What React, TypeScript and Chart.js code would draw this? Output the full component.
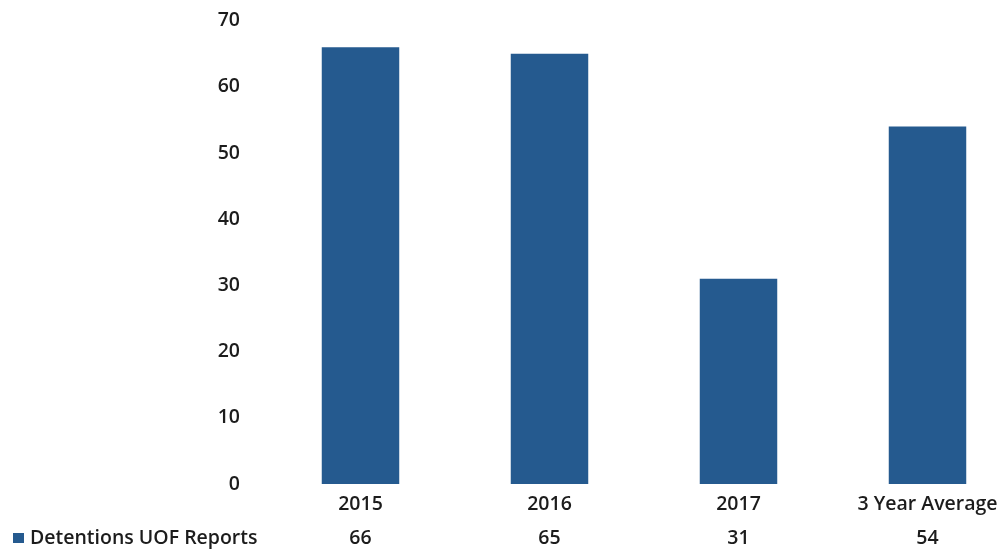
import React, { useEffect, useRef } from "react";
import { Chart, registerables } from "chart.js";

Chart.register(...registerables);

const categories = ["2015", "2016", "2017", "3 Year Average"];
const seriesName = "Detentions UOF Reports";
const values = [66, 65, 31, 54];
const yTicks = [0, 10, 20, 30, 40, 50, 60, 70];

const BAR_COLOR = "#255a8f";
const TEXT_COLOR = "#1c1c1c";
const FONT_FAMILY = "'Open Sans', sans-serif";
const FONT_SIZE = 19.5;
const SHIFT = 17;

export default function App() {
  const ref = useRef<HTMLCanvasElement | null>(null);

  useEffect(() => {
    document.body.style.margin = "0";
    const canvas = ref.current;
    if (!canvas) return;

    const tablePlugin = {
      id: "dataTableRow",
      afterDraw(chart: any) {
        const ctx = chart.ctx;
        const xScale = chart.scales.x;
        const rowY = chart.chartArea.bottom + 54;
        ctx.save();
        ctx.fillStyle = BAR_COLOR;
        ctx.fillRect(13, rowY - 5, 11, 10);
        ctx.fillStyle = TEXT_COLOR;
        ctx.font = `600 ${FONT_SIZE}px ${FONT_FAMILY}`;
        ctx.textBaseline = "middle";
        ctx.textAlign = "left";
        ctx.fillText(seriesName, 30, rowY);
        ctx.textAlign = "center";
        values.forEach((v, i) => {
          ctx.fillText(String(v), xScale.getPixelForValue(i), rowY);
        });
        ctx.restore();
      },
    };

    const chart = new Chart(canvas, {
      type: "bar",
      data: {
        labels: categories,
        datasets: [
          {
            label: seriesName,
            data: values,
            backgroundColor: BAR_COLOR,
            categoryPercentage: 1,
            barPercentage: 0.41,
          },
        ],
      },
      options: {
        animation: false,
        responsive: false,
        maintainAspectRatio: false,
        layout: { padding: { top: 1, left: 0, right: 0, bottom: 0 } },
        plugins: {
          legend: { display: false },
          tooltip: { enabled: false },
        },
        scales: {
          x: {
            grid: { display: false, drawTicks: false },
            border: { display: false },
            ticks: {
              color: TEXT_COLOR,
              font: { family: FONT_FAMILY, size: FONT_SIZE, weight: "600" },
              padding: 9,
              maxRotation: 0,
              autoSkip: false,
            },
            afterFit(scale: any) {
              scale.height = 71;
            },
          },
          y: {
            min: 0,
            max: 70,
            afterBuildTicks(scale: any) {
              scale.ticks = yTicks.map((v) => ({ value: v }));
            },
            grid: { display: false, drawTicks: false },
            border: { display: false },
            ticks: {
              color: TEXT_COLOR,
              font: { family: FONT_FAMILY, size: FONT_SIZE, weight: "600" },
              padding: 26,
            },
            afterFit(scale: any) {
              scale.width = 266;
            },
          },
        },
      },
      plugins: [tablePlugin],
    });

    return () => chart.destroy();
  }, []);

  return (
    <div style={{ width: 1002, height: 555, overflow: "hidden", position: "relative", background: "#fff" }}>
      <canvas ref={ref} width={1022} height={555 + SHIFT} style={{ position: "absolute", left: 0, top: -SHIFT }} />
    </div>
  );
}
